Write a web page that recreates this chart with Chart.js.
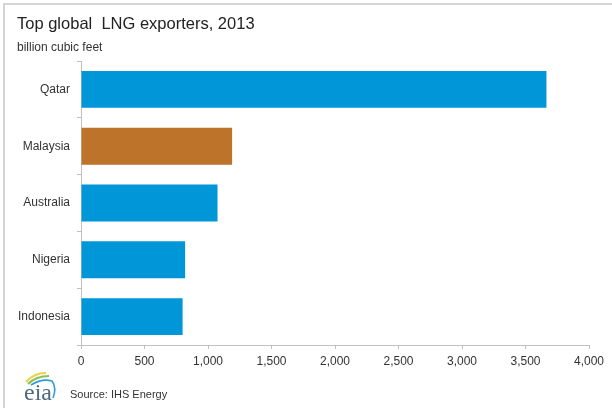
<!DOCTYPE html>
<html>
<head>
<meta charset="utf-8">
<script src="https://cdn.jsdelivr.net/npm/chart.js@4/dist/chart.umd.min.js"></script>
<style>
  html, body { margin: 0; padding: 0; background: #fff; }
  #wrap { position: relative; width: 612px; height: 408px; overflow: hidden; font-family: "Liberation Sans", Arial, sans-serif; }
  #frame { position: absolute; left: 3px; top: 3px; width: 620px; height: 420px; border: 2px solid #d4d4d4; border-right: none; border-bottom: none; }
  #title { position: absolute; left: 17px; top: 13px; font-size: 16.5px; color: #222; white-space: pre; line-height: 20px; }
  #subtitle { position: absolute; left: 17px; top: 40px; font-size: 12px; color: #333; line-height: 14px; }
  #source { position: absolute; left: 70px; top: 388px; font-size: 11px; color: #333; line-height: 13px; }
  #logo { position: absolute; left: 22px; top: 370px; }
  canvas { position: absolute; left: 0; top: 0; }
</style>
</head>
<body>
<div id="wrap">
  <div id="frame"></div>
  <canvas id="chart" width="612" height="408"></canvas>
  <div id="title">Top global  LNG exporters, 2013</div>
  <div id="subtitle">billion cubic feet</div>
  <svg id="logo" width="40" height="34" viewBox="0 0 40 34">
    <path d="M4 12 Q12 3 24 3" stroke="#e8d44a" stroke-width="2.2" fill="none"/>
    <path d="M6 14 Q14 6 27 6" stroke="#8cc152" stroke-width="2.2" fill="none"/>
    <path d="M9 15 Q20 8 30 11 Q35 18 31 28" stroke="#2a9fd6" stroke-width="1.6" fill="none"/>
    <text x="2" y="30" font-family="Liberation Serif, serif" font-size="24" fill="#4d6a80">eia</text>
  </svg>
  <div id="source">Source: IHS Energy</div>
</div>
<script>
// LNG exports by country, 2013 (billion cubic feet)
const countries = ['Qatar', 'Malaysia', 'Australia', 'Nigeria', 'Indonesia'];
const exports2013 = [3665, 1190, 1075, 820, 800];
const xTicks = [0, 500, 1000, 1500, 2000, 2500, 3000, 3500, 4000];

const BLUE = '#0096d7';
const BROWN = '#bd732a';
const AXIS = '#c0c0c0';
const TEXT = '#333333';

const ctx = document.getElementById('chart').getContext('2d');
new Chart(ctx, {
    type: 'bar',
    data: {
        labels: countries,
        datasets: [{
            data: exports2013,
            backgroundColor: countries.map(c => c === 'Malaysia' ? BROWN : BLUE),
            borderWidth: 0,
            categoryPercentage: 1.0,
            barPercentage: 0.65
        }]
    },
    options: {
        indexAxis: 'y',
        responsive: false,
        animation: false,
        devicePixelRatio: 1,
        layout: { padding: { top: 61, right: 23, left: 0, bottom: 0 } },
        plugins: {
            legend: { display: false },
            tooltip: { enabled: false }
        },
        scales: {
            x: {
                min: xTicks[0],
                max: xTicks[xTicks.length - 1],
                afterBuildTicks: (scale) => { scale.ticks = xTicks.map(v => ({ value: v })); },
                afterFit: (scale) => { scale.height = 63; },
                grid: { drawOnChartArea: false, drawTicks: true, tickLength: 4, color: AXIS },
                border: { display: true, color: AXIS, width: 1 },
                ticks: {
                    color: TEXT,
                    padding: 5,
                    maxRotation: 0,
                    font: { family: 'Liberation Sans, Arial, sans-serif', size: 12 },
                    callback: (v) => Number(v).toLocaleString('en-US')
                }
            },
            y: {
                afterFit: (scale) => { scale.width = 81; },
                grid: { drawOnChartArea: false, drawTicks: true, tickLength: 4, color: AXIS, offset: true },
                border: { display: true, color: AXIS, width: 1 },
                ticks: {
                    color: TEXT,
                    padding: 7,
                    font: { family: 'Liberation Sans, Arial, sans-serif', size: 12 }
                }
            }
        }
    }
});
</script>
</body>
</html>
